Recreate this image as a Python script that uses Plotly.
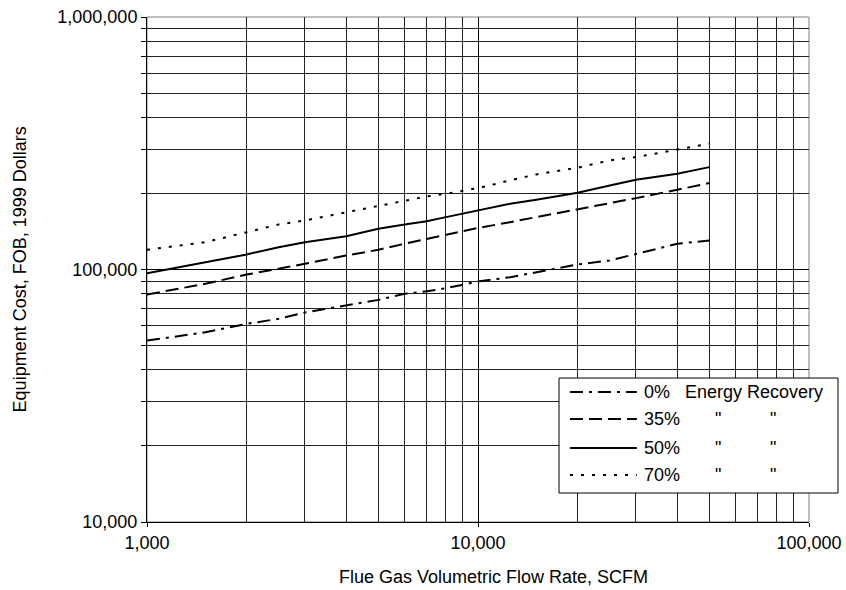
import plotly.graph_objects as go

# ---- data ----
flow_scfm = [1000, 1500, 2000, 2500, 3000, 4000, 5000, 6000, 7000, 8000,
             10000, 12500, 15000, 20000, 25000, 30000, 40000, 50000]

cost_0pct = [52300, 56400, 60900, 63800, 67500, 72000, 75800, 80100, 82000, 84300,
             89600, 93200, 97600, 104700, 108600, 115400, 126400, 130300]
cost_35pct = [79600, 87800, 95500, 100600, 105300, 113600, 119700, 126400, 132300, 137200,
              146000, 154000, 161200, 172400, 182100, 191700, 207000, 219900]
cost_50pct = [96700, 106900, 114700, 122600, 128300, 135500, 145000, 150800, 155400, 161200,
              171300, 182100, 188900, 201400, 215300, 226700, 239500, 254400]
cost_70pct = [119700, 128300, 140500, 150800, 156400, 168700, 178200, 187700, 194700, 199500,
              210000, 225300, 238000, 253000, 270400, 278700, 298200, 314900]

series_names = ["0%", "35%", "50%", "70%"]
legend_suffix = ["Energy Recovery", '"', '"', '"']

x_tick_vals = [1000, 10000, 100000]
x_tick_text = ["1,000", "10,000", "100,000"]
y_tick_vals = [10000, 100000, 1000000]
y_tick_text = ["10,000", "100,000", "1,000,000"]

x_title = "Flue Gas Volumetric Flow Rate, SCFM"
y_title = "Equipment Cost, FOB, 1999 Dollars"

# ---- styling ----
FONT = "Liberation Sans, Arial, sans-serif"
FS = 18
dashes = ["13px,6px,3px,6px", "13px,6px", "solid", "3px,8px"]
series = [cost_0pct, cost_35pct, cost_50pct, cost_70pct]

fig = go.Figure()
for name, vals, dash in zip(series_names, series, dashes):
    fig.add_trace(go.Scatter(
        x=flow_scfm, y=vals, mode="lines", name=name, showlegend=False,
        line=dict(color="black", width=2, dash=dash),
        hoverinfo="skip"))

minor_x = [m * 10 ** e for e in (3, 4) for m in range(2, 10)]
minor_y = [m * 10 ** e for e in (4, 5) for m in range(2, 10)]

fig.update_layout(
    width=846, height=590,
    margin=dict(l=147, r=37, t=17, b=68, autoexpand=False),
    paper_bgcolor="white", plot_bgcolor="white",
    font=dict(family=FONT, size=FS, color="black"),
    xaxis=dict(
        type="log", range=[3, 5], automargin=False, ticklabeloverflow="allow",
        tickmode="array", tickvals=x_tick_vals, ticktext=x_tick_text,
        ticks="outside", ticklen=4, tickcolor="black",
        showgrid=True, gridcolor="black", gridwidth=1,
        showline=True, linecolor="black", linewidth=1,
        minor=dict(tickmode="array", tickvals=minor_x, showgrid=True,
                   gridcolor="#222222", gridwidth=1, ticks=""),
        zeroline=False, fixedrange=True,
        tickfont=dict(family=FONT, size=FS),
    ),
    yaxis=dict(
        type="log", range=[4, 6], automargin=False, ticklabeloverflow="allow",
        tickmode="array", tickvals=y_tick_vals, ticktext=y_tick_text,
        ticks="outside", ticklen=5, tickcolor="black",
        showgrid=True, gridcolor="black", gridwidth=1,
        showline=True, linecolor="black", linewidth=1,
        minor=dict(tickmode="array", tickvals=minor_y, showgrid=True,
                   gridcolor="#222222", gridwidth=1, ticks="outside",
                   ticklen=5, tickcolor="black"),
        zeroline=False, fixedrange=True,
        tickfont=dict(family=FONT, size=FS),
    ),
)

shapes = []
annotations = []

# gray outer frame (top/right)
shapes.append(dict(type="rect", xref="paper", yref="paper", x0=0, x1=1, y0=0, y1=1,
                   line=dict(color="#808080", width=1), layer="below"))

# custom legend box
lx0, lx1, ly0, ly1 = 0.6224, 1.0438, 0.0574, 0.2851
shapes.append(dict(type="rect", xref="paper", yref="paper", x0=lx0, x1=lx1, y0=ly0, y1=ly1,
                   line=dict(color="black", width=1), fillcolor="white", layer="above"))
rows_y = [0.2574, 0.2040, 0.1465, 0.0931]
for i, (name, dash) in enumerate(zip(series_names, dashes)):
    yy = rows_y[i]
    shapes.append(dict(type="line", xref="paper", yref="paper",
                       x0=0.639, x1=0.740, y0=yy, y1=yy,
                       line=dict(color="black", width=2, dash=dash), layer="above"))
    annotations.append(dict(xref="paper", yref="paper", x=0.7477, y=yy,
                            text=name, showarrow=False, xanchor="left", yanchor="middle",
                            font=dict(family=FONT, size=FS)))
    if i == 0:
        annotations.append(dict(xref="paper", yref="paper", x=0.8097, y=yy,
                                text=legend_suffix[0], showarrow=False, xanchor="left",
                                yanchor="middle", font=dict(family=FONT, size=FS)))
    else:
        for qx in (0.8625, 0.9456):
            annotations.append(dict(xref="paper", yref="paper", x=qx, y=yy,
                                    text=legend_suffix[i], showarrow=False, xanchor="center",
                                    yanchor="middle", font=dict(family=FONT, size=FS)))

# axis titles
annotations.append(dict(xref="paper", yref="paper", x=0.523, y=-0.108, text=x_title,
                        showarrow=False, xanchor="center", yanchor="middle",
                        font=dict(family=FONT, size=FS)))
annotations.append(dict(xref="paper", yref="paper", x=-0.192, y=0.5, text=y_title,
                        showarrow=False, xanchor="center", yanchor="middle", textangle=-90,
                        font=dict(family=FONT, size=FS)))

fig.update_layout(shapes=shapes, annotations=annotations)
# remove the default page margin so the figure fills the 846x590 window exactly
fig.write_html("out.html",
               config={"displayModeBar": False, "staticPlot": True},
               post_script="document.body.style.margin='0';document.body.style.overflow='hidden';")
